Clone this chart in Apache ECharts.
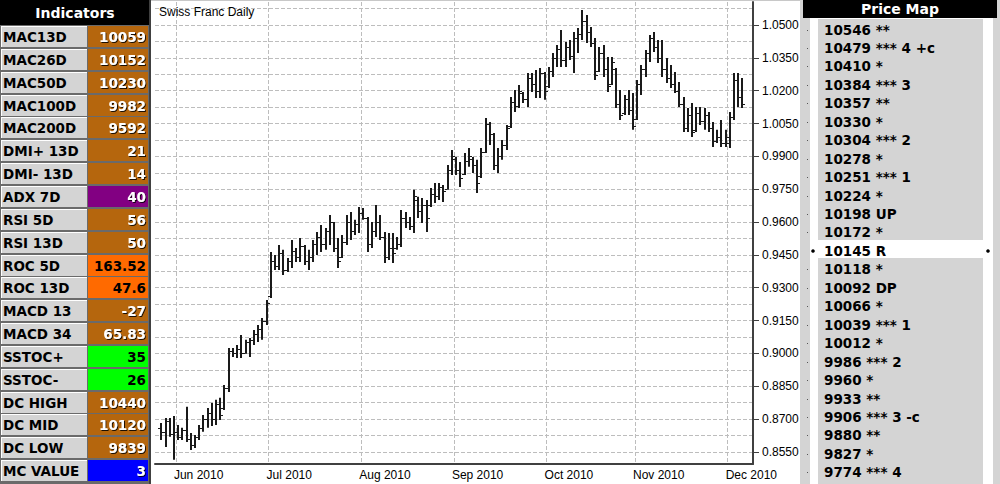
<!DOCTYPE html>
<html><head><meta charset="utf-8">
<script src="https://cdn.jsdelivr.net/npm/echarts@6/dist/echarts.min.js"></script>
<style>html,body{margin:0;padding:0;background:#fff;}#c{width:1000px;height:484px;}</style>
</head><body><div id="c"></div>
<script>
const chartTitle = 'Swiss Franc Daily';
const indicatorTitle = 'Indicators';
const indicatorNames = ['MAC13D','MAC26D','MAC50D','MAC100D','MAC200D','DMI+ 13D','DMI- 13D','ADX 7D','RSI 5D','RSI 13D','ROC 5D','ROC 13D','MACD 13','MACD 34','SSTOC+','SSTOC-','DC HIGH','DC MID','DC LOW','MC VALUE'];
const indicatorValues = ['10059','10152','10230','9982','9592','21','14','40','56','50','163.52','47.6','-27','65.83','35','26','10440','10120','9839','3'];
const indicatorKinds = ['brown','brown','brown','brown','brown','brown','brown','purple','brown','brown','orange','orange','brown','brown','green','green','brown','brown','brown','blue'];
const priceMapTitle = 'Price Map';
const priceMap = ['10546 **','10479 *** 4 +c','10410 *','10384 *** 3','10357 **','10330 *','10304 *** 2','10278 *','10251 *** 1','10224 *','10198 UP','10172 *','10145 R','10118 *','10092 DP','10066 *','10039 *** 1','10012 *','9986 *** 2','9960 *','9933 **','9906 *** 3 -c','9880 **','9827 *','9774 *** 4'];
const priceMapCurrent = '10145 R';

const tradingDays = [
'2010-05-27','2010-05-28','2010-05-31',
'2010-06-01','2010-06-02','2010-06-03','2010-06-04','2010-06-07','2010-06-08','2010-06-09','2010-06-10','2010-06-11','2010-06-14','2010-06-15','2010-06-16','2010-06-17','2010-06-18','2010-06-21','2010-06-22','2010-06-23','2010-06-24','2010-06-25','2010-06-28','2010-06-29','2010-06-30',
'2010-07-01','2010-07-02','2010-07-05','2010-07-06','2010-07-07','2010-07-08','2010-07-09','2010-07-12','2010-07-13','2010-07-14','2010-07-15','2010-07-16','2010-07-19','2010-07-20','2010-07-21','2010-07-22','2010-07-23','2010-07-26','2010-07-27','2010-07-28','2010-07-29','2010-07-30',
'2010-08-02','2010-08-03','2010-08-04','2010-08-05','2010-08-06','2010-08-09','2010-08-10','2010-08-11','2010-08-12','2010-08-13','2010-08-16','2010-08-17','2010-08-18','2010-08-19','2010-08-20','2010-08-23','2010-08-24','2010-08-25','2010-08-26','2010-08-27','2010-08-30','2010-08-31',
'2010-09-01','2010-09-02','2010-09-03','2010-09-06','2010-09-07','2010-09-08','2010-09-09','2010-09-10','2010-09-13','2010-09-14','2010-09-15','2010-09-16','2010-09-17','2010-09-20','2010-09-21','2010-09-22','2010-09-23','2010-09-24','2010-09-27','2010-09-28','2010-09-29','2010-09-30',
'2010-10-01','2010-10-04','2010-10-05','2010-10-06','2010-10-07','2010-10-08','2010-10-11','2010-10-12','2010-10-13','2010-10-14','2010-10-15','2010-10-18','2010-10-19','2010-10-20','2010-10-21','2010-10-22','2010-10-25','2010-10-26','2010-10-27','2010-10-28','2010-10-29',
'2010-11-01','2010-11-02','2010-11-03','2010-11-04','2010-11-05','2010-11-08','2010-11-09','2010-11-10','2010-11-11','2010-11-12','2010-11-15','2010-11-16','2010-11-17','2010-11-18','2010-11-19','2010-11-22','2010-11-23','2010-11-24','2010-11-25','2010-11-26','2010-11-29','2010-11-30',
'2010-12-01','2010-12-02','2010-12-03','2010-12-06','2010-12-07'];
const leadDays = ['2010-05-26'];
const trailDays = ['2010-12-08','2010-12-09'];

// prices in pips (x10000)
const openP = [8660,8640,8690,8630,8640,8620,8650,8610,8580,8620,8660,8700,8730,8700,8770,8750,8840,9010,9000,9020,9000,9050,9060,9090,9110,9150,9260,9420,9400,9460,9380,9420,9470,9440,9490,9420,9440,9500,9530,9500,9560,9600,9480,9440,9510,9600,9560,9590,9640,9620,9500,9560,9600,9530,9440,9480,9480,9500,9620,9600,9580,9700,9650,9680,9680,9730,9720,9760,9750,9840,9890,9840,9820,9880,9890,9860,9810,9920,10050,10000,9860,9900,9950,10040,10150,10130,10190,10160,10260,10230,10200,10280,10220,10290,10350,10390,10340,10400,10360,10440,10460,10520,10470,10420,10290,10370,10300,10230,10300,10140,10100,10160,10110,10070,10230,10300,10370,10440,10400,10350,10300,10260,10230,10200,10140,10030,10090,10020,10100,10060,10090,10030,9970,9990,9960,9960,10080,10250,10170];
const highP = [8682,8705,8705,8714,8673,8660,8756,8637,8628,8673,8719,8751,8774,8788,8797,8856,9025,9025,9039,9084,9062,9071,9107,9130,9162,9244,9463,9450,9495,9473,9436,9518,9482,9527,9495,9473,9518,9555,9587,9573,9632,9600,9527,9541,9632,9646,9610,9669,9664,9623,9600,9678,9632,9555,9550,9550,9532,9655,9646,9623,9747,9715,9710,9701,9756,9778,9778,9769,9861,9929,9897,9874,9915,9938,9897,9884,9938,10075,10057,10007,9938,9975,10043,10171,10203,10226,10194,10281,10281,10295,10304,10285,10308,10372,10409,10477,10422,10432,10468,10486,10568,10546,10491,10441,10399,10409,10354,10354,10304,10203,10180,10203,10189,10249,10317,10386,10454,10468,10432,10432,10349,10317,10285,10240,10171,10121,10144,10125,10125,10121,10103,10057,10021,10066,10021,10103,10281,10281,10258];
const lowP = [8605,8573,8619,8514,8605,8605,8596,8559,8568,8605,8642,8660,8669,8673,8696,8742,8824,8984,8979,8979,8998,8984,9039,9052,9062,9130,9253,9381,9381,9358,9372,9390,9418,9418,9404,9381,9418,9450,9463,9473,9495,9463,9390,9436,9495,9518,9541,9550,9610,9463,9482,9532,9518,9413,9427,9413,9473,9486,9573,9564,9550,9619,9596,9555,9669,9687,9701,9692,9747,9815,9815,9760,9815,9852,9824,9733,9801,9915,9952,9838,9824,9884,9929,10030,10103,10121,10144,10125,10194,10167,10167,10158,10212,10262,10308,10308,10308,10340,10281,10372,10432,10418,10399,10249,10285,10262,10194,10226,10121,10066,10089,10089,10021,10066,10180,10262,10331,10377,10326,10262,10235,10212,10189,10125,10011,10011,9988,10011,10043,10021,10011,9943,9961,9943,9943,9938,10066,10125,10121];
const closeP = [8640,8690,8630,8640,8620,8650,8610,8580,8620,8660,8700,8730,8700,8770,8720,8840,9010,9000,9020,9000,9050,9060,9090,9110,9150,9230,9420,9400,9460,9380,9420,9470,9440,9490,9420,9440,9500,9530,9500,9560,9600,9480,9420,9510,9600,9560,9590,9640,9620,9500,9560,9600,9530,9440,9480,9460,9500,9620,9600,9580,9720,9650,9680,9620,9730,9720,9760,9740,9840,9900,9840,9800,9880,9900,9860,9780,9920,10050,10000,9860,9900,9950,10030,10150,10130,10200,10160,10260,10230,10200,10280,10200,10290,10350,10390,10340,10400,10360,10440,10460,10520,10470,10420,10270,10370,10300,10220,10330,10140,10090,10160,10110,10040,10230,10300,10370,10440,10400,10350,10300,10260,10230,10200,10140,10030,10090,10010,10100,10060,10090,10030,9970,9990,9960,9990,10080,10250,10170,10140];

const yTicks = [8550,8700,8850,9000,9150,9300,9450,9600,9750,9900,10050,10200,10350,10500];
const yGrid = [8550,8625,8700,8775,8850,8925,9000,9075,9150,9225,9300,9375,9450,9525,9600,9675,9750,9825,9900,9975,10050,10125,10200,10275,10350,10425,10500,10575];
const monthStarts = ['2010-06-01','2010-07-01','2010-08-02','2010-09-01','2010-10-01','2010-11-01','2010-12-01'];
const monthLabels = ['Jun 2010','Jul 2010','Aug 2010','Sep 2010','Oct 2010','Nov 2010','Dec 2010'];

// ---------- build ----------
const axisDates = leadDays.concat(tradingDays, trailDays);
const ohlc = tradingDays.map((d, k) => [d, openP[k], highP[k], lowP[k], closeP[k]]);
const kindFill = {brown:'#b5660d', purple:'#820082', orange:'#ff6a00', green:'#00ff00', blue:'#0000ff'};
const kindText = {brown:'#fff', purple:'#fff', orange:'#000', green:'#000', blue:'#fff'};
const UI = '"DejaVu Sans", Verdana, sans-serif';
const AX = '"Liberation Sans", Arial, sans-serif';

const g = [];
// left panel
g.push({type:'rect', shape:{x:0,y:0,width:150,height:484}, style:{fill:'#6a6a6a'}, silent:true});
g.push({type:'rect', shape:{x:0,y:0,width:149,height:25}, style:{fill:'#000'}, silent:true});
g.push({type:'text', style:{text:indicatorTitle, x:75, y:13, align:'center', verticalAlign:'middle', fill:'#fff', font:'bold 14px ' + UI}, silent:true});
indicatorNames.forEach((name, k) => {
  const top = Math.round(26 + k * 22.85);
  const kind = indicatorKinds[k];
  g.push({type:'rect', shape:{x:1,y:top,width:86,height:21}, style:{fill:'#d4d4d4'}, silent:true});
  g.push({type:'rect', shape:{x:1,y:top,width:86,height:1}, style:{fill:'#fff'}, silent:true});
  g.push({type:'rect', shape:{x:1,y:top,width:1,height:21}, style:{fill:'#fff'}, silent:true});
  g.push({type:'rect', shape:{x:88,y:top,width:60,height:21}, style:{fill:kindFill[kind]}, silent:true});
  g.push({type:'text', style:{text:name, x:3, y:top+11, align:'left', verticalAlign:'middle', fill:'#000', font:'bold 13.5px ' + UI}, silent:true});
  const white = kindText[kind] === '#fff';
  g.push({type:'text', style:{text:indicatorValues[k], x:146, y:top+11, align:'right', verticalAlign:'middle', fill:kindText[kind], font:'bold 13.5px ' + UI,
    textShadowColor: white ? 'rgba(0,0,0,0.85)' : 'transparent', textShadowOffsetX: white ? 1 : 0, textShadowOffsetY: white ? 1 : 0, textShadowBlur: white ? 1 : 0}, silent:true});
});
g.push({type:'rect', shape:{x:149,y:0,width:2,height:484}, style:{fill:'#404040'}, silent:true});
// chart frame top
g.push({type:'rect', shape:{x:151,y:0,width:649,height:1}, style:{fill:'#c8c8c8'}, silent:true});
// right panel
g.push({type:'rect', shape:{x:800,y:0,width:200,height:484}, style:{fill:'#d4d4d4'}, silent:true});
g.push({type:'rect', shape:{x:810,y:18,width:183,height:466}, style:{fill:'#fff'}, silent:true});
g.push({type:'rect', shape:{x:818,y:19,width:165,height:221}, style:{fill:'#d4d4d4'}, silent:true});
g.push({type:'rect', shape:{x:818,y:258,width:165,height:226}, style:{fill:'#d4d4d4'}, silent:true});
g.push({type:'rect', shape:{x:803,y:0,width:194,height:18}, style:{fill:'#000'}, silent:true});
g.push({type:'text', style:{text:priceMapTitle, x:900, y:9, align:'center', verticalAlign:'middle', fill:'#fff', font:'bold 14px ' + UI}, silent:true});
priceMap.forEach((t, k) => {
  const yc = Math.round(29.5 + k * 18.45);
  if (t === priceMapCurrent) {
    g.push({type:'circle', shape:{cx:813, cy:yc, r:1.8}, style:{fill:'#000'}, silent:true});
    g.push({type:'circle', shape:{cx:988, cy:yc, r:1.8}, style:{fill:'#000'}, silent:true});
  } else {
    g.push({type:'rect', shape:{x:807,y:yc,width:1,height:1}, style:{fill:'#555'}, silent:true});
  }
  g.push({type:'text', style:{text:t, x:824, y:yc, align:'left', verticalAlign:'middle', fill:'#000', font:'bold 13.5px ' + UI}, silent:true});
});

function renderItem(params, api) {
  const xi = api.value(0);
  const pO = api.coord([xi, api.value(1)]);
  const pH = api.coord([xi, api.value(2)]);
  const pL = api.coord([xi, api.value(3)]);
  const pC = api.coord([xi, api.value(4)]);
  const x = Math.round(pH[0]);
  const yo = Math.round(pO[1]) + 0.5, yc = Math.round(pC[1]) + 0.5;
  const col = '#1a1a1a';
  return {type:'group', children:[
    {type:'line', shape:{x1:x, y1:pH[1], x2:x, y2:pL[1]}, style:{stroke:col, lineWidth:2}},
    {type:'line', shape:{x1:x-3, y1:yo, x2:x-1, y2:yo}, style:{stroke:col, lineWidth:1}},
    {type:'line', shape:{x1:x+1, y1:yc, x2:x+3, y2:yc}, style:{stroke:col, lineWidth:1}}
  ]};
}

const chart = echarts.init(document.getElementById('c'), null, {renderer:'svg', width:1000, height:484});
chart.setOption({
  animation:false,
  backgroundColor:'#fff',
  title:{text:chartTitle, left:154, top:1, textStyle:{fontFamily:AX, fontSize:12, fontWeight:'normal', color:'#000'}},
  graphic:g,
  grid:{left:155, right:247, top:2, bottom:20},
  xAxis:{type:'category', data:axisDates, boundaryGap:true,
    axisLine:{lineStyle:{color:'#404040', width:2}},
    axisTick:{interval:(i) => monthStarts.includes(axisDates[i-1]), length:5, lineStyle:{color:'#404040'}},
    axisLabel:{interval:(i, v) => monthStarts.includes(v), formatter:(v) => monthLabels[monthStarts.indexOf(v)], align:'left', margin:5, fontFamily:AX, fontSize:12, color:'#000'},
    splitLine:{show:true, interval:(i) => monthStarts.includes(axisDates[i-1]), lineStyle:{type:[4,2], color:'#bdbdbd'}}
  },
  yAxis:[
    {type:'value', position:'right', min:8495, max:10605,
     axisLine:{show:true, lineStyle:{color:'#404040', width:2}},
     axisTick:{show:true, customValues:yTicks, length:6, lineStyle:{color:'#404040'}},
     axisLabel:{customValues:yTicks, formatter:(v) => (v/10000).toFixed(4), margin:9, fontFamily:AX, fontSize:12, color:'#000'},
     splitLine:{show:false}},
    {type:'value', position:'left', min:8495, max:10605,
     axisLine:{show:false}, axisTick:{show:false, customValues:yGrid}, axisLabel:{show:false},
     splitLine:{show:true, lineStyle:{type:[4,2], color:'#bdbdbd'}}}
  ],
  series:[{type:'custom', renderItem:renderItem, data:ohlc, encode:{x:0, y:[1,2,3,4]}, clip:true, xAxisIndex:0, yAxisIndex:0}]
});
</script></body></html>
